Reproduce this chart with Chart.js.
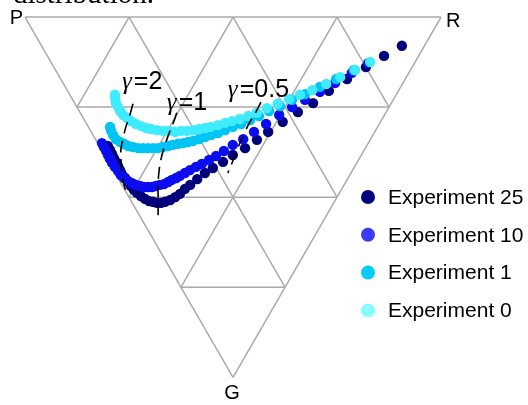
<!DOCTYPE html>
<html>
<head>
<meta charset="utf-8">
<script src="https://cdn.jsdelivr.net/npm/chart.js@4.4.1/dist/chart.umd.min.js"></script>
<style>
  html, body { margin: 0; padding: 0; background: #fff; overflow: hidden; }
  #wrap { position: relative; width: 528px; height: 405px; overflow: hidden; }
  #caption { position: absolute; left: 13px; top: -21px; font: 29px "Liberation Serif", serif; line-height: 29px; color: #000; white-space: nowrap; }
  canvas { position: absolute; left: 0; top: 0; }
</style>
</head>
<body>
<div id="wrap">
  <canvas id="ternary" width="528" height="405"></canvas>
  <div id="caption">distribution.</div>
</div>
<script>
(() => {
    // Compositions in percent: R and G shares, P = 100 - R - G
    const exp0R = [10.8, 10.3, 9.9, 9.9, 9.8, 10.0, 10.5, 11.0, 11.8, 12.8, 13.7, 14.7, 16.0, 17.4, 18.8, 20.1, 21.7, 23.1, 24.7, 26.3, 27.9, 29.4, 31.4, 33.4, 35.3, 37.5, 39.9, 42.4, 45.5, 48.7, 52.1, 55.3, 58.9, 63.1, 67.4, 72.0, 76.7];
    const exp0G = [21.6, 22.8, 23.9, 25.0, 26.1, 27.2, 28.0, 28.9, 29.7, 30.3, 30.8, 31.1, 31.4, 31.6, 31.6, 31.9, 31.6, 31.6, 31.4, 31.1, 30.8, 30.5, 30.0, 29.4, 28.9, 28.3, 27.5, 26.6, 25.3, 24.1, 22.8, 21.6, 20.3, 18.6, 16.7, 14.7, 12.5];

    const exp1R = [5.2, 4.9, 4.8, 4.9, 5.5, 6.2, 6.9, 7.9, 9.0, 10.2, 11.4, 12.6, 13.8, 15.1, 16.5, 17.8, 19.2, 20.5, 21.8, 23.2, 24.9, 26.6, 28.3, 30.3, 32.4, 34.7, 37.1, 39.8, 42.5, 45.6, 48.9, 52.7, 56.6, 61.2, 66.2, 71.7];
    const exp1G = [30.5, 31.6, 32.8, 33.9, 34.7, 35.2, 35.8, 36.1, 36.4, 36.4, 36.4, 36.4, 36.4, 36.1, 35.8, 35.5, 35.2, 35.0, 34.7, 34.4, 33.9, 33.3, 32.8, 32.2, 31.4, 30.5, 29.7, 28.6, 27.5, 26.1, 24.7, 23.0, 21.4, 19.4, 17.2, 14.7];

    const exp10R = [1.0, 0.9, 0.9, 0.8, 0.7, 0.7, 0.8, 1.0, 1.1, 1.5, 2.0, 2.7, 3.4, 4.2, 5.0, 6.0, 6.9, 8.0, 9.1, 10.2, 11.5, 12.7, 14.0, 15.2, 16.8, 18.4, 20.3, 22.1, 24.4, 26.6, 29.2, 32.2, 35.5, 39.1, 43.1, 47.5, 51.7, 55.8, 60.5, 65.4, 70.8, 76.1];
    const exp10G = [35.0, 36.1, 37.2, 38.3, 39.4, 40.5, 41.6, 42.7, 43.9, 44.7, 45.5, 46.1, 46.6, 46.9, 47.2, 47.2, 47.2, 46.9, 46.6, 46.4, 45.8, 45.2, 44.7, 44.1, 43.3, 42.5, 41.6, 40.8, 39.7, 38.6, 37.2, 35.5, 33.9, 31.9, 29.7, 27.2, 25.0, 23.0, 20.8, 18.3, 15.5, 12.8];

    const exp25R = [2.0, 2.0, 1.9, 1.8, 1.8, 1.7, 1.6, 1.5, 1.7, 1.9, 2.0, 2.2, 2.5, 3.0, 3.6, 4.3, 5.1, 5.9, 6.9, 8.0, 9.5, 11.1, 12.7, 14.6, 16.4, 18.9, 21.6, 24.2, 27.5, 30.8, 34.7, 38.7, 42.5, 47.4, 52.4, 57.3, 62.8, 68.8, 75.0, 80.9, 86.6];
    const exp25G = [35.8, 36.9, 38.0, 39.1, 40.2, 41.4, 42.5, 43.6, 44.7, 45.8, 46.9, 48.0, 48.8, 49.7, 50.5, 51.1, 51.3, 51.6, 51.6, 51.3, 50.8, 50.0, 49.1, 47.7, 46.6, 45.0, 43.3, 41.9, 40.2, 38.3, 36.4, 34.1, 31.9, 29.1, 26.4, 23.9, 20.5, 17.2, 13.9, 10.8, 8.0];

    // iso-gamma dashed curves
    const gamma2R = [13.9, 11.6, 9.0, 6.8, 4.6, 3.0, 1.5, 0.5, 0.0];
    const gamma2G = [24.1, 27.2, 30.5, 33.6, 36.9, 40.2, 43.6, 46.6, 48.8];
    const gamma1R = [23.2, 20.7, 17.9, 15.2, 12.8, 10.7, 8.7, 6.6, 4.5];
    const gamma1G = [26.6, 29.7, 33.0, 36.4, 39.7, 43.0, 46.6, 50.8, 55.0];
    const gamma05R = [44.9, 42.3, 39.5, 36.4, 33.2, 30.2, 27.1];
    const gamma05G = [23.6, 26.4, 29.1, 32.5, 36.1, 39.7, 43.3];
    const gammaValues = ['2', '1', '0.5'];

    const gridTicks = [25, 50, 75];
    const vertexLabels = ['P', 'R', 'G'];
    const seriesLabels = ['Experiment 0', 'Experiment 1', 'Experiment 10', 'Experiment 25'];

    // styling
    const pointColors = ['#3fecff', '#00c4f4', '#0c0cf0', '#00007c'];
    const legendColors = ['#88ffff', '#00ccff', '#3a3aff', '#00007f'];
    const gammaLabelOffsets = [[-11, -15], [-10, -3], [-33, -5]];

    // canvas placement of the triangle: P at (25,17), side 416px
    const LEFT = 25, TOP = 17, SIDE = 416, W = 528, H = 405;
    const H3 = Math.sqrt(3) / 2;

    function toXY(r, g) {
        return { x: (r + g / 2) / 100, y: (g / 100) * H3 };
    }
    function toPoints(rs, gs) {
        return rs.map((r, i) => toXY(r, gs[i]));
    }

    const seriesR = [exp0R, exp1R, exp10R, exp25R];
    const seriesG = [exp0G, exp1G, exp10G, exp25G];
    const gammaR = [gamma2R, gamma1R, gamma05R];
    const gammaG = [gamma2G, gamma1G, gamma05G];

    const datasets = [];
    gammaR.forEach((rs, i) => {
        datasets.push({
            label: 'gamma ' + gammaValues[i],
            data: toPoints(rs, gammaG[i]),
            showLine: true,
            borderColor: '#000',
            borderWidth: 1.6,
            borderDash: [12, 7],
            tension: 0.4,
            pointRadius: 0
        });
    });
    seriesR.forEach((rs, i) => {
        datasets.push({
            label: seriesLabels[i],
            data: toPoints(rs, seriesG[i]),
            showLine: false,
            pointRadius: 5.2,
            pointBorderWidth: 0,
            pointBackgroundColor: pointColors[i],
            backgroundColor: pointColors[i]
        });
    });

    function pix(chart, r, g) {
        const p = toXY(r, g);
        return [chart.scales.x.getPixelForValue(p.x), chart.scales.y.getPixelForValue(p.y)];
    }

    const ternaryPlugin = {
        id: 'ternary',
        beforeDatasetsDraw(chart) {
            const ctx = chart.ctx;
            ctx.save();
            ctx.strokeStyle = '#aaaaaa';
            ctx.lineWidth = 1.5;
            const seg = (a, b) => {
                const A = pix(chart, a[0], a[1]), B = pix(chart, b[0], b[1]);
                ctx.beginPath();
                ctx.moveTo(A[0], A[1]);
                ctx.lineTo(B[0], B[1]);
                ctx.stroke();
            };
            seg([0, 0], [100, 0]);
            seg([100, 0], [0, 100]);
            seg([0, 100], [0, 0]);
            gridTicks.forEach(t => {
                seg([0, t], [100 - t, t]);
                seg([t, 0], [t, 100 - t]);
                seg([100 - t, 0], [0, 100 - t]);
            });
            ctx.restore();
        },
        afterDatasetsDraw(chart) {
            const ctx = chart.ctx;
            ctx.save();
            ctx.fillStyle = '#000';

            // vertex labels
            ctx.font = '20px "Liberation Sans", Arial, sans-serif';
            ctx.textBaseline = 'alphabetic';
            const P = pix(chart, 0, 0), R = pix(chart, 100, 0), G = pix(chart, 0, 100);
            ctx.textAlign = 'right';
            ctx.fillText(vertexLabels[0], P[0] - 2, P[1] + 7);
            ctx.textAlign = 'left';
            ctx.fillText(vertexLabels[1], R[0] + 5, R[1] + 10);
            ctx.textAlign = 'center';
            ctx.fillText(vertexLabels[2], G[0] - 1, G[1] + 22);

            // gamma labels
            ctx.textAlign = 'left';
            gammaR.forEach((rs, i) => {
                const a = pix(chart, rs[0], gammaG[i][0]);
                const x = a[0] + gammaLabelOffsets[i][0], y = a[1] + gammaLabelOffsets[i][1];
                ctx.font = 'italic 25px "Liberation Serif", serif';
                ctx.fillText('\u03b3', x, y);
                const w = ctx.measureText('\u03b3').width;
                ctx.font = '25px "Liberation Sans", Arial, sans-serif';
                ctx.fillText('=' + gammaValues[i], x + w + 2, y);
            });

            // legend (Experiment 25 first)
            ctx.font = '21px "Liberation Sans", Arial, sans-serif';
            ctx.textBaseline = 'middle';
            for (let k = 0; k < 4; k++) {
                const i = 3 - k;
                const cy = 197 + k * 37.8;
                ctx.fillStyle = legendColors[i];
                ctx.beginPath();
                ctx.arc(368, cy, 7, 0, Math.PI * 2);
                ctx.fill();
                ctx.fillStyle = '#000';
                ctx.fillText(seriesLabels[i], 388, cy + 1);
            }
            ctx.restore();
        }
    };

    new Chart(document.getElementById('ternary'), {
        type: 'scatter',
        data: { datasets },
        options: {
            responsive: false,
            animation: false,
            events: [],
            layout: { padding: 0, autoPadding: false },
            plugins: { legend: { display: false }, tooltip: { enabled: false } },
            scales: {
                x: { type: 'linear', display: false, min: -LEFT / SIDE, max: (W - LEFT) / SIDE },
                y: { type: 'linear', display: false, reverse: true, min: -TOP / SIDE, max: (H - TOP) / SIDE }
            }
        },
        plugins: [ternaryPlugin]
    });
})();
</script>
</body>
</html>
